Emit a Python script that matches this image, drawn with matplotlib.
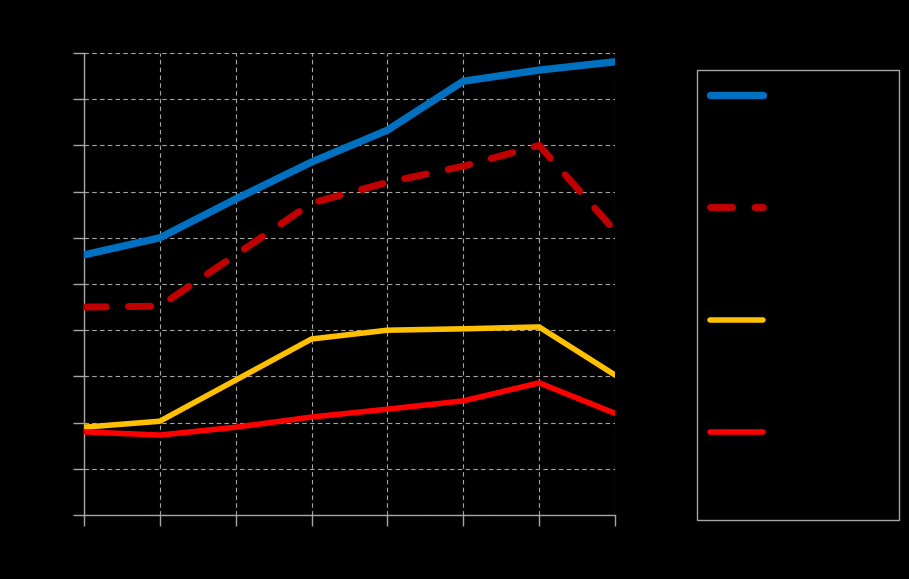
import matplotlib
matplotlib.use("Agg")
import matplotlib.pyplot as plt
from matplotlib.patches import Rectangle

categories = ["2012", "2013", "2014", "2015", "2016", "2017", "2018", "2019"]
series_names = ["Series 1", "Series 2", "Series 3", "Series 4"]
s1 = [5.63, 6.00, 6.84, 7.64, 8.33, 9.39, 9.63, 9.81]
s2 = [4.50, 4.52, 5.63, 6.75, 7.20, 7.55, 8.00, 6.15]
s3 = [1.90, 2.03, 2.92, 3.81, 4.00, 4.03, 4.07, 3.03]
s4 = [1.80, 1.73, 1.90, 2.12, 2.29, 2.47, 2.86, 2.20]
yticks = [0, 1, 2, 3, 4, 5, 6, 7, 8, 9, 10]

fig = plt.figure(figsize=(9.09, 5.79), dpi=100, facecolor="black")
ax = fig.add_axes([84/909, 1-515/579, (615-84)/909, (515-53)/579])
ax.set_facecolor("black")

x = list(range(len(categories)))
ax.plot(x, s1, color="#0070C0", lw=5.3, solid_capstyle="round", label=series_names[0], zorder=5)
ax.plot(x, s2, color="#C00000", lw=5, linestyle=(0, (3.2, 3.2)), dash_capstyle="round", label=series_names[1], zorder=4)
ax.plot(x, s3, color="#FFC000", lw=4, solid_capstyle="round", label=series_names[2], zorder=4)
ax.plot(x, s4, color="#FF0000", lw=4, solid_capstyle="round", label=series_names[3], zorder=4)

ax.set_xlim(0, len(categories) - 1)
ax.set_ylim(0, 10)
ax.set_xticks(x)
ax.set_xticklabels(categories, color="black")
ax.set_yticks(yticks)
ax.set_yticklabels([str(v) for v in yticks], color="black")
ax.grid(True, color="#A6A6A6", linestyle=(0, (4, 3)), linewidth=0.8)
ax.set_axisbelow(True)
for s in ["top", "right"]:
    ax.spines[s].set_visible(False)
for s in ["left", "bottom"]:
    ax.spines[s].set_color("#A6A6A6")
    ax.spines[s].set_linewidth(1.0)
ax.tick_params(axis="both", colors="#A6A6A6", labelcolor="black", length=8, width=1)
ax.set_title("Chart", color="black")

# legend frame
fig.patches.append(Rectangle((697/909, 1-520/579), (899-697)/909, (520-70)/579,
                             transform=fig.transFigure, facecolor="black",
                             edgecolor="#A6A6A6", linewidth=1.0, zorder=0))
leg = fig.legend(loc="upper left", bbox_to_anchor=(697/909, 1-76/579),
                 borderaxespad=0, frameon=False, handlelength=3.85,
                 labelspacing=7.1, borderpad=0.9, fontsize=10, labelcolor="black")

fig.savefig("out.png", dpi=100, facecolor="black")
